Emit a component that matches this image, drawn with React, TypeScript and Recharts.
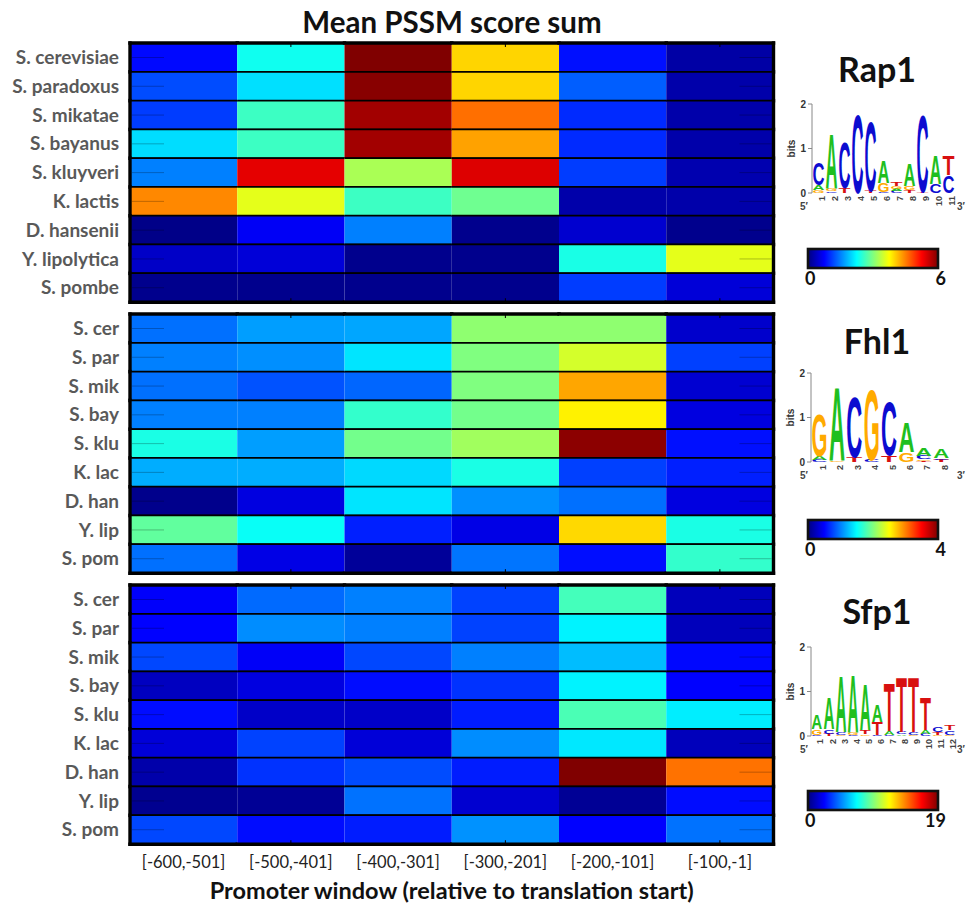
import React from "react";
import { BarChart, Bar, XAxis, YAxis, Label } from "recharts";

const windows = ["[-600,-501]", "[-500,-401]", "[-400,-301]", "[-300,-201]", "[-200,-101]", "[-100,-1]"];
const windowTicks = [0.5, 1.5, 2.5, 3.5, 4.5, 5.5];
const speciesFull = ["S. cerevisiae", "S. paradoxus", "S. mikatae", "S. bayanus", "S. kluyveri", "K. lactis", "D. hansenii", "Y. lipolytica", "S. pombe"];
const speciesShort = ["S. cer", "S. par", "S. mik", "S. bay", "S. klu", "K. lac", "D. han", "Y. lip", "S. pom"];

const rap1Scores = [
  [0.8, 2.34, 6.0, 4.0, 0.84, 0.22],
  [1.2, 2.07, 5.95, 4.0, 1.3, 0.25],
  [1.1, 2.6, 5.8, 4.6, 1.0, 0.25],
  [2.05, 2.6, 5.8, 4.3, 1.0, 0.25],
  [1.5, 5.4, 3.25, 5.45, 1.1, 0.28],
  [4.45, 3.6, 2.6, 2.9, 0.25, 0.25],
  [0.05, 0.7, 1.5, 0.08, 0.47, 0.08],
  [0.42, 0.52, 0.08, 0.08, 2.4, 3.6],
  [0.08, 0.08, 0.08, 0.08, 1.1, 0.52],
];
const fhl1Scores = [
  [0.94, 1.12, 1.15, 2.06, 2.06, 0.3],
  [1.0, 1.06, 1.4, 2.0, 2.33, 0.75],
  [0.94, 0.82, 0.9, 2.0, 2.85, 0.32],
  [1.0, 1.0, 1.7, 1.95, 2.55, 0.38],
  [1.6, 1.12, 1.95, 2.13, 3.95, 0.56],
  [1.18, 1.18, 1.35, 1.6, 0.75, 0.62],
  [0.05, 0.38, 1.4, 1.06, 0.94, 0.38],
  [1.88, 1.53, 0.62, 0.4, 2.65, 1.6],
  [0.94, 0.4, 0.1, 0.96, 0.55, 1.7],
];
const sfp1Scores = [
  [2.3, 4.35, 4.75, 3.6, 8.4, 1.1],
  [2.4, 5.0, 4.75, 3.6, 6.9, 1.1],
  [3.7, 2.25, 3.7, 4.75, 5.9, 2.5],
  [1.2, 1.8, 2.6, 3.3, 6.9, 2.4],
  [2.6, 1.35, 1.35, 2.9, 8.5, 6.8],
  [1.65, 3.6, 1.65, 5.0, 6.7, 1.1],
  [0.8, 3.3, 3.8, 2.9, 19, 14.5],
  [0.3, 0.4, 4.5, 1.5, 0.4, 2.6],
  [3.7, 2.6, 2.9, 5.1, 2.4, 4.5],
];
const rap1Max = 6;
const fhl1Max = 4;
const sfp1Max = 19;

// sequence logos: per position, stack from bottom to top [letter, bits]
const rap1Logo = [
  [["G", 0.06], ["A", 0.12], ["C", 0.5]],
  [["C", 0.04], ["G", 0.06], ["A", 1.25]],
  [["T", 0.12], ["C", 1.05]],
  [["C", 1.8]],
  [["T", 0.05], ["C", 1.6]],
  [["C", 0.03], ["G", 0.2], ["A", 0.5]],
  [["C", 0.05], ["A", 0.05], ["G", 0.06], ["T", 0.1]],
  [["T", 0.07], ["G", 0.08], ["A", 0.5]],
  [["T", 0.02], ["C", 1.78]],
  [["C", 0.2], ["A", 0.65]],
  [["C", 0.4], ["T", 0.45]],
];
const fhl1Logo = [
  [["C", 0.05], ["A", 0.08], ["G", 0.95]],
  [["G", 0.04], ["A", 1.67]],
  [["T", 0.12], ["C", 1.37]],
  [["C", 0.05], ["G", 1.63]],
  [["T", 0.15], ["C", 1.23]],
  [["G", 0.22], ["A", 0.68]],
  [["T", 0.02], ["G", 0.04], ["C", 0.08], ["A", 0.18]],
  [["T", 0.05], ["C", 0.03], ["A", 0.2]],
];
const sfp1Logo = [
  [["C", 0.03], ["G", 0.12], ["A", 0.33]],
  [["T", 0.05], ["C", 0.1], ["A", 0.72]],
  [["G", 0.03], ["C", 0.07], ["A", 1.28]],
  [["C", 0.03], ["G", 0.06], ["A", 1.32]],
  [["G", 0.04], ["T", 0.1], ["A", 1.05]],
  [["C", 0.02], ["T", 0.3], ["A", 0.38]],
  [["C", 0.03], ["A", 0.08], ["T", 1.1]],
  [["A", 0.04], ["C", 0.06], ["T", 1.27]],
  [["G", 0.03], ["C", 0.05], ["T", 1.25]],
  [["C", 0.05], ["A", 0.08], ["T", 0.75]],
  [["G", 0.03], ["T", 0.06], ["C", 0.12]],
  [["G", 0.03], ["C", 0.1], ["T", 0.12]],
];
const logoTicks = [0, 1, 2];

const LETTER_COLORS: Record<string, string> = { A: "#1fbf1f", C: "#0c0cd0", G: "#ffaa00", T: "#d81010" };
const FONT = "Lato, 'Open Sans', sans-serif";
const SANS = "'Liberation Sans', Arial, sans-serif";

function jet(t: number) {
  const c = (v: number) => Math.max(0, Math.min(1, v));
  const tt = c(t);
  const r = c(1.5 - Math.abs(4 * tt - 3));
  const g = c(1.5 - Math.abs(4 * tt - 2));
  const b = c(1.5 - Math.abs(4 * tt - 1));
  const h = (v: number) => Math.round(v * 255).toString(16).padStart(2, "0");
  return `#${h(r)}${h(g)}${h(b)}`;
}

function buildRows(species: string[], scores: number[][]) {
  return species.map((s, i) => {
    const r: any = { species: s, idx: i };
    scores[i].forEach((v, j) => {
      r[`w${j}`] = 1;
      r[`v${j}`] = v;
    });
    return r;
  });
}

function HeatCell(props: any) {
  const { x, y, width, height, payload, col, max, nRows, nCols } = props;
  if (width == null || height == null) return null;
  const v = payload[`v${col}`];
  const row = payload.idx;
  const cy = y + height / 2;
  const els: any[] = [];
  els.push(<rect key="r" x={x} y={y} width={width} height={height} fill={jet(v / max)} />);
  els.push(<line key="t" x1={x} x2={x + width} y1={y} y2={y} stroke="#000" strokeWidth={1.8} />);
  els.push(<line key="b" x1={x} x2={x + width} y1={y + height} y2={y + height} stroke="#000" strokeWidth={1.8} />);
  if (col === 0) {
    els.push(<line key="lt" x1={x + 2} x2={x + 34} y1={cy} y2={cy} stroke="rgba(0,0,0,0.25)" strokeWidth={1} />);
  }
  if (col === nCols - 1) {
    els.push(<line key="rt" x1={x + width - 34} x2={x + width - 2} y1={cy} y2={cy} stroke="rgba(0,0,0,0.25)" strokeWidth={1} />);
  }
  if (col % 2 === 1 && row === 0) {
    els.push(<line key="tt" x1={x + width / 2} x2={x + width / 2} y1={y} y2={y + 4} stroke="#000" strokeWidth={1} />);
  }
  if (col % 2 === 1 && row === nRows - 1) {
    els.push(<line key="bt" x1={x + width / 2} x2={x + width / 2} y1={y + height - 4} y2={y + height} stroke="#000" strokeWidth={1} />);
  }
  const fw = 3.4;
  if (row === 0) els.push(<line key="ft" x1={x} x2={x + width} y1={y} y2={y} stroke="#000" strokeWidth={fw} strokeLinecap="square" />);
  if (row === nRows - 1) els.push(<line key="fb" x1={x} x2={x + width} y1={y + height} y2={y + height} stroke="#000" strokeWidth={fw} strokeLinecap="square" />);
  if (col === 0) els.push(<line key="fl" x1={x} x2={x} y1={y} y2={y + height} stroke="#000" strokeWidth={fw} strokeLinecap="square" />);
  if (col === nCols - 1) els.push(<line key="fr" x1={x + width} x2={x + width} y1={y} y2={y + height} stroke="#000" strokeWidth={fw} strokeLinecap="square" />);
  return <g>{els}</g>;
}

function HeatPanel({ top, species, scores, max, showX }: any) {
  const rows = buildRows(species, scores);
  const height = showX ? 322 : 265;
  return (
    <div style={{ position: "absolute", left: 0, top }}>
      <BarChart
        width={780}
        height={height}
        data={rows}
        layout="vertical"
        margin={{ top: 3, right: 6.5, bottom: showX ? 0 : 3, left: 0 }}
        barCategoryGap={0}
        barGap={0}
      >
        <XAxis
          type="number"
          domain={[0, 6]}
          hide={!showX}
          ticks={windowTicks}
          interval={0}
          tickFormatter={(v: number) => windows[Math.floor(v)]}
          axisLine={false}
          tickLine={false}
          height={60}
          tickMargin={6}
          tick={{ fill: "#222", fontSize: 16.5, fontFamily: FONT }}
        >
          {showX ? (
            <Label
              value="Promoter window (relative to translation start)"
              position="insideBottom"
              offset={5}
              style={{ fill: "#111", fontSize: 23.5, fontWeight: 700, fontFamily: FONT }}
            />
          ) : null}
        </XAxis>
        <YAxis
          type="category"
          dataKey="species"
          width={130}
          axisLine={false}
          tickLine={false}
          tickMargin={5}
          interval={0}
          tick={{ fill: "#595959", fontSize: 19, fontWeight: 700, fontFamily: FONT }}
        />
        {windows.map((_, j) => (
          <Bar
            key={j}
            dataKey={`w${j}`}
            stackId="s"
            isAnimationActive={false}
            shape={(p: any) => <HeatCell {...p} col={j} max={max} nRows={species.length} nCols={windows.length} />}
          />
        ))}
      </BarChart>
    </div>
  );
}

function Letter(props: any) {
  const { x, y, width, height, letter } = props;
  if (!letter || !height || height <= 0.2 || !width) return null;
  const W = 66;
  const CAP = 72;
  return (
    <text
      x={0}
      y={0}
      fontFamily={SANS}
      fontWeight={700}
      fontSize={100}
      textLength={W}
      lengthAdjust="spacingAndGlyphs"
      fill={LETTER_COLORS[letter]}
      transform={`translate(${x},${y + height}) scale(${width / W},${height / CAP})`}
    >
      {letter}
    </text>
  );
}

const LOGO_TOP_MARGIN = 40;

function LogoChart({ left, plotTop, width, logo }: any) {
  const rows = logo.map((stack: any[], i: number) => {
    const r: any = { pos: String(i + 1) };
    for (let k = 0; k < 4; k++) {
      r[`l${k}`] = stack[k] ? stack[k][0] : "";
      r[`h${k}`] = stack[k] ? stack[k][1] : 0;
    }
    return r;
  });
  return (
    <div style={{ position: "absolute", left, top: plotTop - LOGO_TOP_MARGIN }}>
      <BarChart
        width={width}
        height={LOGO_TOP_MARGIN + 89 + 22}
        data={rows}
        margin={{ top: LOGO_TOP_MARGIN, right: 5, bottom: 0, left: 0 }}
        barCategoryGap="3%"
      >
        <XAxis
          dataKey="pos"
          height={22}
          tickLine={false}
          axisLine={false}
          interval={0}
          tickMargin={0}
          tickSize={3}
          tick={{ angle: -90, textAnchor: "end", verticalAnchor: "middle", fontSize: 9, fontWeight: 700, fill: "#444", fontFamily: SANS }}
        />
        <YAxis
          type="number"
          domain={[0, 2]}
          ticks={logoTicks}
          width={33}
          axisLine={{ stroke: "#888" }}
          tickLine={{ stroke: "#888" }}
          tickSize={4}
          tickMargin={2}
          tick={{ fontSize: 10, fill: "#333", fontWeight: 700, fontFamily: SANS }}
        >
          <Label
            value="bits"
            angle={-90}
            position="center"
            dx={-4}
            style={{ fontSize: 10, fill: "#333", fontWeight: 700, fontFamily: SANS }}
          />
        </YAxis>
        {[0, 1, 2, 3].map((k) => (
          <Bar
            key={k}
            dataKey={`h${k}`}
            stackId="l"
            isAnimationActive={false}
            shape={(p: any) => <Letter {...p} letter={p.payload[`l${k}`]} />}
          />
        ))}
      </BarChart>
    </div>
  );
}

const jetStops = [0, 0.125, 0.375, 0.625, 0.875, 1];

function Overlay() {
  const bars = [
    { title: "Rap1", titleY: 82, barY: 249, labY: 285, max: rap1Max, logoY: 210 },
    { title: "Fhl1", titleY: 354, barY: 520, labY: 556, max: fhl1Max, logoY: 479 },
    { title: "Sfp1", titleY: 624, barY: 791, labY: 827, max: sfp1Max, logoY: 753 },
  ];
  return (
    <svg width={967} height={905} style={{ position: "absolute", left: 0, top: 0 }}>
      <defs>
        <linearGradient id="jetgrad" x1="0" x2="1" y1="0" y2="0">
          {jetStops.map((s) => (
            <stop key={s} offset={s} stopColor={jet(s)} />
          ))}
        </linearGradient>
      </defs>
      <text x={452} y={33} textAnchor="middle" fontFamily={FONT} fontWeight={700} fontSize={29.5} fill="#111">
        Mean PSSM score sum
      </text>
      {bars.map((b) => (
        <g key={b.title}>
          <text x={877} y={b.titleY} textAnchor="middle" fontFamily={FONT} fontWeight={700} fontSize={34} fill="#111">
            {b.title}
          </text>
          <rect x={808} y={b.barY} width={130} height={19} fill="url(#jetgrad)" stroke="#111" strokeWidth={2.6} />
          <text x={805} y={b.labY} fontFamily={FONT} fontWeight={700} fontSize={18} fill="#111">
            0
          </text>
          <text x={946} y={b.labY} textAnchor="end" fontFamily={FONT} fontWeight={700} fontSize={18} fill="#111">
            {b.max}
          </text>
          <text x={804} y={b.logoY} textAnchor="middle" fontFamily={SANS} fontWeight={700} fontSize={10} fill="#444">
            5′
          </text>
          <text x={961} y={b.logoY} textAnchor="middle" fontFamily={SANS} fontWeight={700} fontSize={10} fill="#444">
            3′
          </text>
        </g>
      ))}
    </svg>
  );
}

export default function App() {
  return (
    <div style={{ position: "absolute", left: 0, top: 0, width: 967, height: 905, background: "#fff", overflow: "hidden" }}>
      <Overlay />
      <HeatPanel top={40} species={speciesFull} scores={rap1Scores} max={rap1Max} showX={false} />
      <HeatPanel top={311} species={speciesShort} scores={fhl1Scores} max={fhl1Max} showX={false} />
      <HeatPanel top={582} species={speciesShort} scores={sfp1Scores} max={sfp1Max} showX={true} />
      <LogoChart left={779} plotTop={104} width={181} logo={rap1Logo} />
      <LogoChart left={778} plotTop={373} width={177} logo={fhl1Logo} />
      <LogoChart left={778} plotTop={647} width={183} logo={sfp1Logo} />
    </div>
  );
}
